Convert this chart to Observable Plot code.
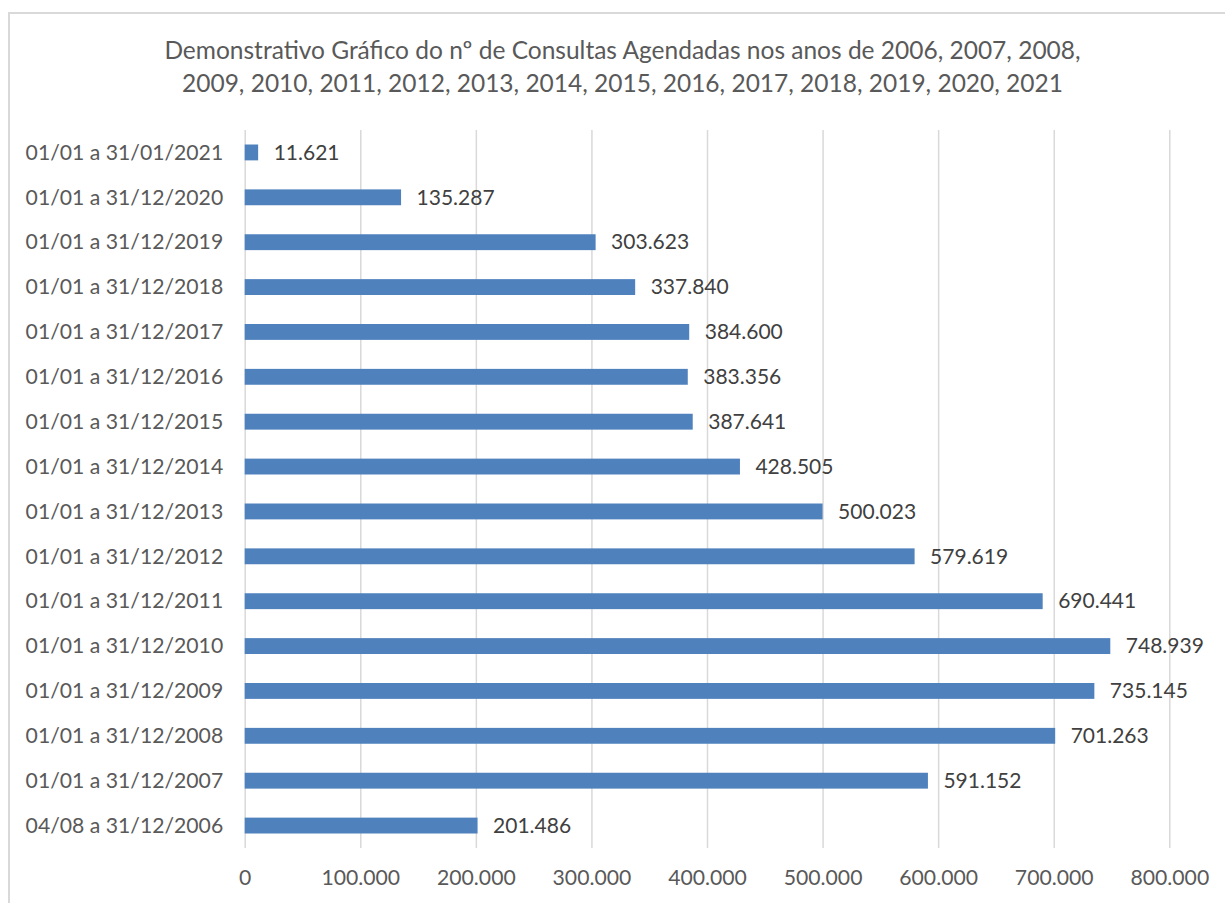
<!DOCTYPE html>
<html>
<head>
<meta charset="utf-8">
<script src="https://cdn.jsdelivr.net/npm/d3@7"></script>
<script src="https://cdn.jsdelivr.net/npm/@observablehq/plot@0.6"></script>
<style>
  html, body { margin: 0; padding: 0; background: #fff; overflow: hidden; }
  #wrap { position: relative; width: 1225px; height: 903px; font-family: Lato, "Open Sans", sans-serif; }
  #frame { position: absolute; left: 8px; top: 12px; width: 1300px; height: 1000px; border: 2px solid #d9d9d9; box-sizing: border-box; }
  #title { position: absolute; left: 0; top: 33px; width: 1245px; text-align: center; color: #595959; font-size: 24.5px; line-height: 33px; }
  #chart { position: absolute; left: 0; top: 110px; }
</style>
</head>
<body>
<div id="wrap">
  <div id="frame"></div>
  <div id="title">Demonstrativo Gráfico do nº de Consultas Agendadas nos anos de 2006, 2007, 2008,<br>2009, 2010, 2011, 2012, 2013, 2014, 2015, 2016, 2017, 2018, 2019, 2020, 2021</div>
  <div id="chart"></div>
</div>
<script>
const periods = [
  "01/01 a 31/01/2021",
  "01/01 a 31/12/2020",
  "01/01 a 31/12/2019",
  "01/01 a 31/12/2018",
  "01/01 a 31/12/2017",
  "01/01 a 31/12/2016",
  "01/01 a 31/12/2015",
  "01/01 a 31/12/2014",
  "01/01 a 31/12/2013",
  "01/01 a 31/12/2012",
  "01/01 a 31/12/2011",
  "01/01 a 31/12/2010",
  "01/01 a 31/12/2009",
  "01/01 a 31/12/2008",
  "01/01 a 31/12/2007",
  "04/08 a 31/12/2006"
];
const consultas = [11621, 135287, 303623, 337840, 384600, 383356, 387641, 428505, 500023, 579619, 690441, 748939, 735145, 701263, 591152, 201486];
const xTicks = [0, 100000, 200000, 300000, 400000, 500000, 600000, 700000, 800000];

const data = periods.map((p, i) => ({period: p, value: consultas[i]}));
const fmt = d3.formatLocale({decimal: ",", thousands: ".", grouping: [3], currency: ["", ""]}).format(",d");

const chart = Plot.plot({
  width: 1225,
  height: 793,
  marginLeft: 244.7,
  marginRight: 55.7,
  marginTop: 20,
  marginBottom: 55,
  style: {fontFamily: "Lato, 'Open Sans', sans-serif", fontSize: "21.2px", color: "#595959", background: "transparent"},
  x: {domain: [0, 800000], ticks: xTicks, tickFormat: fmt, tickSize: 0, tickPadding: 21, label: null},
  y: {domain: periods, padding: 0, round: false, tickSize: 0, tickPadding: 22, label: null},
  marks: [
    Plot.gridX(xTicks, {stroke: "#d9d9d9", strokeOpacity: 1, strokeWidth: 1.5}),
    Plot.barX(data, {x: "value", y: "period", fill: "#4f81bd", insetTop: 14.5, insetBottom: 14.5}),
    Plot.text(data, {x: "value", y: "period", text: d => fmt(d.value), textAnchor: "start", dx: 15, fill: "#404040", fontSize: 21})
  ]
});
document.getElementById("chart").appendChild(chart);
</script>
</body>
</html>
